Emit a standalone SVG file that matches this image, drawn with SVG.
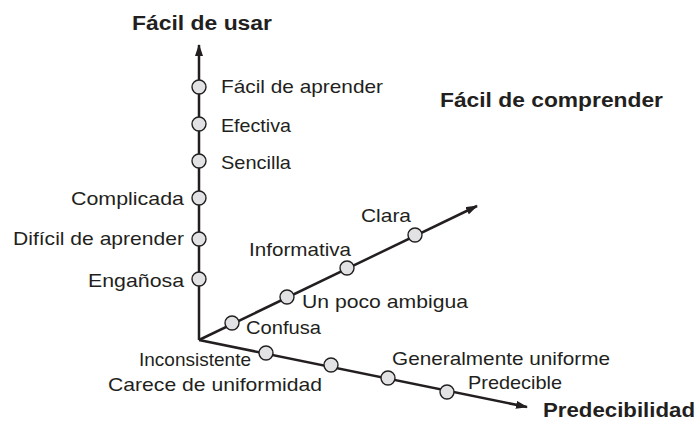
<svg xmlns="http://www.w3.org/2000/svg" width="699" height="427" viewBox="0 0 699 427">
<style>
.ax{stroke:#231f20;stroke-width:2.5;fill:none}
.pt{fill:#e2e2e4;stroke:#231f20;stroke-width:1.4}
.t{font-family:"Liberation Sans",Arial,sans-serif;font-size:19px;fill:#231f20}
.b{font-family:"Liberation Sans",Arial,sans-serif;font-size:20px;font-weight:bold;fill:#231f20}
</style>
<defs>
<marker id="ah" markerWidth="12" markerHeight="8" refX="11" refY="4" orient="auto" markerUnits="userSpaceOnUse">
<path d="M0,0 L12,4 L0,8 Z" fill="#231f20"/>
</marker>
</defs>
<rect width="699" height="427" fill="#fff"/>
<g id="connectors">
<line class="ax" x1="199" y1="340" x2="199" y2="45" marker-end="url(#ah)"/>
<line class="ax" x1="199" y1="340" x2="477" y2="206" marker-end="url(#ah)"/>
<line class="ax" x1="199" y1="340" x2="527" y2="407" marker-end="url(#ah)"/>
</g>
<g id="axis-usar">
<text class="b" x="132" y="30" textLength="140" lengthAdjust="spacingAndGlyphs">Fácil de usar</text>
</g>
<g id="axis-comprender">
<text class="b" x="440" y="107" textLength="223" lengthAdjust="spacingAndGlyphs">Fácil de comprender</text>
</g>
<g id="axis-predecibilidad">
<text class="b" x="543" y="417" textLength="152" lengthAdjust="spacingAndGlyphs">Predecibilidad</text>
</g>
<g id="n-facil-aprender"><circle class="pt" cx="199" cy="87" r="7"/><text class="t" x="221" y="93" textLength="162" lengthAdjust="spacingAndGlyphs">Fácil de aprender</text></g>
<g id="n-efectiva"><circle class="pt" cx="199" cy="124" r="7"/><text class="t" x="221" y="132" textLength="70" lengthAdjust="spacingAndGlyphs">Efectiva</text></g>
<g id="n-sencilla"><circle class="pt" cx="199" cy="161" r="7"/><text class="t" x="221" y="169" textLength="70" lengthAdjust="spacingAndGlyphs">Sencilla</text></g>
<g id="n-complicada"><circle class="pt" cx="199" cy="198" r="7"/><text class="t" x="71" y="205" textLength="113" lengthAdjust="spacingAndGlyphs">Complicada</text></g>
<g id="n-dificil"><circle class="pt" cx="199" cy="239" r="7"/><text class="t" x="13" y="245" textLength="171" lengthAdjust="spacingAndGlyphs">Difícil de aprender</text></g>
<g id="n-enganosa"><circle class="pt" cx="199" cy="279" r="7"/><text class="t" x="88" y="287" textLength="96" lengthAdjust="spacingAndGlyphs">Engañosa</text></g>
<g id="n-confusa"><circle class="pt" cx="232" cy="323" r="7"/><text class="t" x="246" y="334" textLength="75" lengthAdjust="spacingAndGlyphs">Confusa</text></g>
<g id="n-ambigua"><circle class="pt" cx="287" cy="297" r="7"/><text class="t" x="302" y="308" textLength="166" lengthAdjust="spacingAndGlyphs">Un poco ambigua</text></g>
<g id="n-informativa"><circle class="pt" cx="347" cy="268" r="7"/><text class="t" x="249" y="256" textLength="102" lengthAdjust="spacingAndGlyphs">Informativa</text></g>
<g id="n-clara"><circle class="pt" cx="415" cy="235" r="7"/><text class="t" x="361" y="222" textLength="50" lengthAdjust="spacingAndGlyphs">Clara</text></g>
<g id="n-inconsistente"><circle class="pt" cx="266" cy="353" r="7"/><text class="t" x="139" y="366" textLength="112" lengthAdjust="spacingAndGlyphs">Inconsistente</text></g>
<g id="n-carece"><circle class="pt" cx="331" cy="365" r="7"/><text class="t" x="108" y="391" textLength="214" lengthAdjust="spacingAndGlyphs">Carece de uniformidad</text></g>
<g id="n-generalmente"><circle class="pt" cx="388" cy="378" r="7"/><text class="t" x="392" y="365" textLength="218" lengthAdjust="spacingAndGlyphs">Generalmente uniforme</text></g>
<g id="n-predecible"><circle class="pt" cx="447" cy="392" r="7"/><text class="t" x="468" y="389" textLength="94" lengthAdjust="spacingAndGlyphs">Predecible</text></g>
</svg>
